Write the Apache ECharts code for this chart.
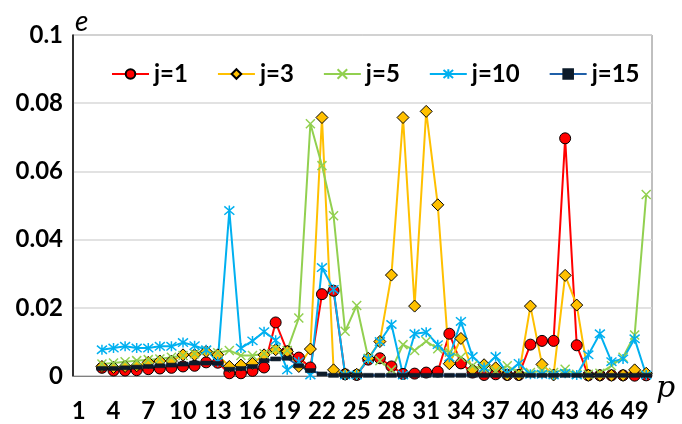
<!DOCTYPE html>
<html><head><meta charset="utf-8">
<script src="https://cdn.jsdelivr.net/npm/echarts@6/dist/echarts.min.js"></script>
<style>html,body{margin:0;padding:0;background:#fff}#c{width:682px;height:424px}</style>
</head><body><div id="c"></div>
<script>
// categories p = 1..50 (data start at p = 3)
const categories = Array.from({length: 50}, (_, i) => String(i + 1));
const firstP = 3;
const j1 = [0.0024,0.0016,0.0016,0.0017,0.002,0.0022,0.0024,0.0028,0.003,0.004,
            0.0039,0.0008,0.0008,0.0015,0.0025,0.0157,0.0072,0.0054,0.0025,0.024,
            0.025,0.0005,0.0003,0.0048,0.0052,0.0028,0.0006,0.0007,0.001,0.0013,
            0.0124,0.0037,0.001,0.0003,0.0005,0.0003,0.0003,0.0092,0.0103,0.0103,
            0.0697,0.009,0.0002,0.0002,0.0002,0.0002,0.0001,0.0002];
const j3 = [0.0028,0.0025,0.0028,0.003,0.004,0.0044,0.0044,0.0062,0.0062,0.0072,
            0.0062,0.0028,0.0032,0.0037,0.0062,0.0077,0.0072,0.0028,0.0079,0.0758,
            0.0018,0.0005,0.0005,0.0052,0.0101,0.0296,0.0758,0.0205,0.0776,0.0502,
            0.0036,0.011,0.0018,0.0033,0.0024,0.0003,0.0003,0.0205,0.0034,0.0003,
            0.0295,0.0208,0.0002,0.0002,0.0002,0.0002,0.0018,0.0008];
const j5 = [0.0035,0.0038,0.0042,0.0045,0.0048,0.005,0.0055,0.006,0.0065,0.0075,
            0.0068,0.0075,0.006,0.006,0.0065,0.0078,0.0075,0.017,0.074,0.0617,
            0.047,0.0131,0.0207,0.0052,0.0045,0.0018,0.0092,0.0075,0.0102,0.008,
            0.007,0.0055,0.003,0.002,0.0015,0.003,0.0008,0.001,0.0015,0.001,
            0.002,0.0005,0.0005,0.0008,0.003,0.0055,0.012,0.0532];
const j10 = [0.0077,0.0082,0.0087,0.0082,0.0082,0.0087,0.0087,0.0098,0.0089,0.0077,
             0.0042,0.0485,0.0082,0.0103,0.013,0.0105,0.0018,0.0042,0.0003,0.0318,
             0.0254,0.0003,0.0003,0.005,0.0101,0.0151,0.0003,0.0124,0.0128,0.0092,
             0.0055,0.016,0.0057,0.0025,0.0057,0.0008,0.0037,0.0005,0.0005,0.0003,
             0.0008,0.0003,0.0062,0.0124,0.0042,0.005,0.0109,0.0003];
const j15 = [0.0022,0.0022,0.0024,0.0026,0.0028,0.003,0.0032,0.0035,0.0038,0.0038,
             0.0037,0.002,0.0022,0.0028,0.0045,0.005,0.0052,0.003,0.0016,0.0006,
             0.0002,0.0002,0.0002,0.0002,0.0002,0.0002,0.0002,0.0002,0.0002,0.0002,
             0.0002,0.0002,0.0002,0.0002,0.0002,0.0002,0.0002,0.0002,0.0002,0.0002,
             0.0002,0.0002,0.0002,0.0002,0.0002,0.0002,0.0002,0.0002];
const yTicks = [0, 0.02, 0.04, 0.06, 0.08, 0.1];

function pad(arr){ const out = []; for (let i = 1; i < firstP; i++) out.push(null); return out.concat(arr); }

const FONT = 'Lato';
const xPath = 'path://M0,0L10,10M10,0L0,10';
const starPath = 'path://M0,0L10,10M10,0L0,10M5,-1L5,11';

function mk(name, data, color, symbol, size, fill, border, bw){
  return {
    name, type: 'line', data: pad(data), showAllSymbol: true, symbol, symbolSize: size,
    lineStyle: {color, width: 2},
    itemStyle: {color: fill, borderColor: border, borderWidth: bw},
    emphasis: {disabled: true}
  };
}

const chart = echarts.init(document.getElementById('c'), null, {renderer: 'canvas'});
chart.setOption({
  animation: false,
  backgroundColor: '#fff',
  grid: {left: 73, right: 30, top: 35, bottom: 48, show: true, borderColor: '#808080', borderWidth: 1},
  legend: {
    left: 106, top: 57, itemWidth: 37, itemHeight: 12, itemGap: 29,
    textStyle: {fontFamily: FONT, fontWeight: 'bold', fontSize: 24, color: '#000'},
    data: ['j=1','j=3','j=5','j=10','j=15']
  },
  xAxis: {
    type: 'category', data: categories, boundaryGap: true,
    name: 'p', nameLocation: 'end', nameGap: 4,
    nameTextStyle: {fontFamily: 'DejaVu Serif', fontStyle: 'italic', fontSize: 30, color: '#000', verticalAlign: 'top', lineHeight: 30, padding: [-2,0,0,0]},
    axisLine: {show: true, lineStyle: {color: '#808080'}},
    axisTick: {show: false},
    axisLabel: {interval: 2, margin: 23, fontFamily: FONT, fontWeight: 'bold', fontSize: 24, color: '#000'},
    splitLine: {show: false}
  },
  yAxis: {
    type: 'value', min: 0, max: 0.1, interval: 0.02,
    name: 'e', nameLocation: 'end', nameGap: 3,
    nameTextStyle: {fontFamily: FONT, fontStyle: 'italic', fontSize: 28, color: '#000', align: 'left', verticalAlign: 'bottom', padding: [0,0,-4,2]},
    axisLine: {show: true, lineStyle: {color: '#000', width: 1.5}},
    axisTick: {show: false},
    axisLabel: {margin: 10, fontFamily: FONT, fontWeight: 'bold', fontSize: 24, color: '#000',
      formatter: v => { const t = yTicks.find(x => Math.abs(x - v) < 1e-9); return t === undefined ? '' : String(t); }},
    splitLine: {show: true, lineStyle: {color: '#d9d9d9', width: 1.5}}
  },
  series: [
    mk('j=1', j1, '#FF0000', 'circle', 11, '#FF0000', '#000', 1),
    mk('j=3', j3, '#FFC000', 'diamond', 12, '#FFC000', '#000', 1),
    mk('j=5', j5, '#92D050', xPath, 9, '#92D050', '#92D050', 1.5),
    mk('j=10', j10, '#00B0F0', starPath, 10, '#00B0F0', '#00B0F0', 1.5),
    mk('j=15', j15, '#1F5FA8', 'rect', [10,4], '#0D1B2A', '#0D1B2A', 0.5)
  ]
});
</script></body></html>
